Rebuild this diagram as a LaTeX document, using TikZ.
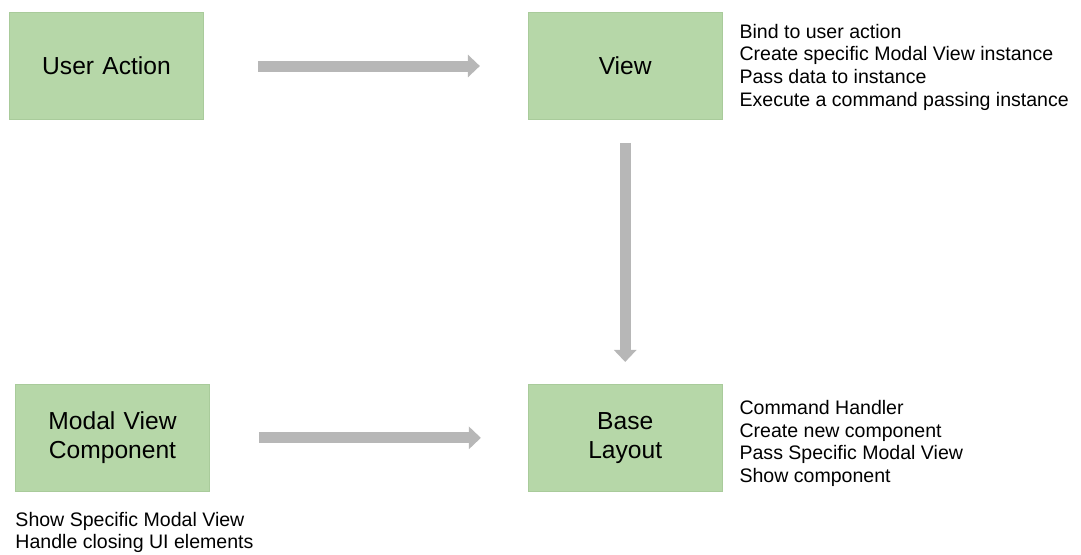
\documentclass[tikz,border=0pt]{standalone}
\usepackage{fontspec}
\setmainfont{Liberation Sans}
\usepackage{xcolor}
\usepackage{tikz}
\usetikzlibrary{arrows.meta,positioning}

\definecolor{boxgreen}{HTML}{B6D7A8}
\definecolor{boxedge}{HTML}{A9CB9B}
\definecolor{arrowgray}{HTML}{B7B7B7}

\begin{document}
\begin{tikzpicture}[
    x=0.025cm, y=-0.025cm,
    block/.style={rectangle, draw=boxedge, line width=0.4pt, fill=boxgreen, text width=4.5cm, align=center,
                  minimum width=4.85cm, minimum height=2.68cm, inner sep=0pt,
                  font=\fontsize{17.5}{20.6}\selectfont},
    note/.style={align=left, inner sep=0pt, font=\fontsize{13.9}{16.1}\selectfont},
    line/.style={draw=arrowgray, line width=0.275cm, -{Triangle[length=0.3cm, width=0.55cm]}}
]
    \useasboundingbox (0,0) rectangle (1081,554);

    % Nodes
    \node [block] (action) at (106.5,66) {User Action};
    \node [block, right=8.1cm of action] (view) {View};
    \node [block, below=6.6cm of view] (base) {Base\\Layout};
    \node [block, left=7.95cm of base] (modal) {Modal View\\Component};

    % Notes
    \node [note, anchor=west, xshift=0.42cm, yshift=-0.03cm] at (view.east) {Bind to user action\\Create specific Modal View instance\\Pass data to instance\\Execute a command passing instance};
    \node [note, anchor=west, xshift=0.42cm, yshift=-0.14cm] at (base.east) {Command Handler\\Create new component\\Pass Specific Modal View\\Show component};
    \node [note, anchor=north west, yshift=-0.5cm] at (modal.south west) {Show Specific Modal View\\Handle closing UI elements};

    % Edges
    \path [line, shorten <=1.35cm, shorten >=1.2cm] (action) -- (view);
    \path [line, shorten <=0.575cm, shorten >=0.55cm] (view) -- (base);
    \path [line, shorten <=1.225cm, shorten >=1.175cm] (modal) -- (base);
\end{tikzpicture}
\end{document}
